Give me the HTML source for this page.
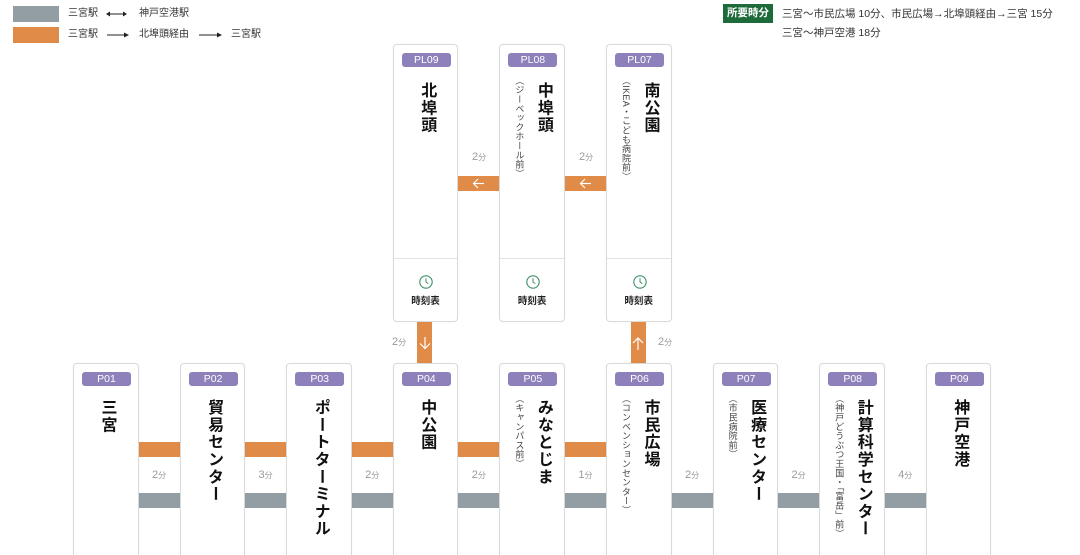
<!DOCTYPE html>
<html><head><meta charset="utf-8">
<style>
*{box-sizing:border-box;margin:0;padding:0}
html,body{width:1080px;height:555px;overflow:hidden;background:#fff}
body{position:relative;font-family:"Liberation Sans","Noto Sans CJK JP",sans-serif;color:#222}
.abs{position:absolute}
.card{position:absolute;background:#fff;border:1px solid #dadada;border-radius:4px;width:65.5px;box-shadow:0 0 2px rgba(0,0,0,0.04)}
.pcard{top:363px;height:192px;border-bottom:none;border-bottom-left-radius:0;border-bottom-right-radius:0}
.plcard{top:44px;height:278px}
.badge{position:absolute;left:8px;width:49px;height:14px;border-radius:3px;background:#8e80bb;color:#fff;font-size:10.5px;line-height:14px;text-align:center;font-family:"Liberation Sans",sans-serif}
.name{position:absolute;writing-mode:vertical-rl;font-size:16px;line-height:16px;width:16px;font-weight:bold;letter-spacing:1.3px;color:#111;white-space:nowrap}
.sub{position:absolute;writing-mode:vertical-rl;font-size:9px;line-height:9px;width:9px;color:#444;white-space:nowrap;letter-spacing:0.3px}
.or{position:absolute;background:#e08b47}
.gr{position:absolute;background:#939ea4}
.t{position:absolute;font-size:11px;color:#999;line-height:12px;white-space:nowrap;text-align:center;width:30px}
.t small{font-size:8px}
.lg{position:absolute;font-size:10px;color:#333;line-height:12px;white-space:nowrap}
.div{position:absolute;left:0;right:0;top:213px;border-top:1px solid #e3e3e3}
.tt{position:absolute;left:0;right:0;top:251px;text-align:center;font-size:9.5px;font-weight:bold;color:#222;line-height:12px}
.clk{position:absolute;left:25.5px;top:230px}
</style></head><body>

<!-- legend left -->
<div class="abs" style="left:13px;top:6px;width:46px;height:16px;background:#939ea4"></div>
<div class="abs" style="left:13px;top:27px;width:46px;height:16px;background:#e08b47"></div>
<div class="lg" style="left:68px;top:8px">三宮駅</div>
<svg class="abs" style="left:106px;top:9px" width="22" height="10"><line x1="2" y1="5" x2="19" y2="5" stroke="#222" stroke-width="1"/><polygon points="0,5 4,2.5 4,7.5" fill="#222"/><polygon points="21,5 17,2.5 17,7.5" fill="#222"/></svg>
<div class="lg" style="left:139px;top:8px">神戸空港駅</div>
<div class="lg" style="left:68px;top:29px">三宮駅</div>
<svg class="abs" style="left:106px;top:30px" width="24" height="10"><line x1="1" y1="5" x2="20" y2="5" stroke="#222" stroke-width="1"/><polygon points="23,5 18,2.5 18,7.5" fill="#222"/></svg>
<div class="lg" style="left:139px;top:29px">北埠頭経由</div>
<svg class="abs" style="left:198px;top:30px" width="26" height="10"><line x1="1" y1="5" x2="21" y2="5" stroke="#222" stroke-width="1"/><polygon points="24,5 19,2.5 19,7.5" fill="#222"/></svg>
<div class="lg" style="left:231px;top:29px">三宮駅</div>

<!-- legend right -->
<div class="abs" style="left:723px;top:4px;width:50px;height:19px;background:#1d6b3b;color:#fff;font-size:10.5px;font-weight:bold;line-height:19px;text-align:center">所要時分</div>
<div class="lg" style="left:782px;top:8px;font-size:10.5px">三宮〜市民広場 10分、市民広場→北埠頭経由→三宮 15分</div>
<div class="lg" style="left:782px;top:27px;font-size:10.5px">三宮〜神戸空港 18分</div>

<!-- PL cards -->
<div class="card plcard" style="left:392.8px">
  <div class="badge" style="top:8px">PL09</div>
  <div class="name" style="left:24.5px;top:37px">北埠頭</div>
  <div class="div"></div>
  <svg class="clk" width="14" height="14"><circle cx="7" cy="7" r="6.2" fill="none" stroke="#3f8f68" stroke-width="1.1"/><polyline points="7,3.3 7,7 9.3,8.6" fill="none" stroke="#3f8f68" stroke-width="1"/></svg>
  <div class="tt">時刻表</div>
</div>
<div class="card plcard" style="left:499.4px">
  <div class="badge" style="top:8px">PL08</div>
  <div class="sub" style="left:14px;top:31px">（ジーベックホール前）</div>
  <div class="name" style="left:34.5px;top:37px">中埠頭</div>
  <div class="div"></div>
  <svg class="clk" width="14" height="14"><circle cx="7" cy="7" r="6.2" fill="none" stroke="#3f8f68" stroke-width="1.1"/><polyline points="7,3.3 7,7 9.3,8.6" fill="none" stroke="#3f8f68" stroke-width="1"/></svg>
  <div class="tt">時刻表</div>
</div>
<div class="card plcard" style="left:606px">
  <div class="badge" style="top:8px">PL07</div>
  <div class="sub" style="left:14px;top:31px">（IKEA・こども病院前）</div>
  <div class="name" style="left:34.5px;top:37px">南公園</div>
  <div class="div"></div>
  <svg class="clk" width="14" height="14"><circle cx="7" cy="7" r="6.2" fill="none" stroke="#3f8f68" stroke-width="1.1"/><polyline points="7,3.3 7,7 9.3,8.6" fill="none" stroke="#3f8f68" stroke-width="1"/></svg>
  <div class="tt">時刻表</div>
</div>

<!-- PL horizontal arrows -->
<div class="or" style="left:458.3px;top:176px;width:41.1px;height:15px"></div>
<svg class="abs" style="left:472px;top:178px" width="14" height="11"><polyline points="6,1 1.5,5.5 6,10" fill="none" stroke="#fff" stroke-width="1.2"/><line x1="1.5" y1="5.5" x2="12" y2="5.5" stroke="#fff" stroke-width="1.2"/></svg>
<div class="t" style="left:464px;top:151px">2<small>分</small></div>
<div class="or" style="left:564.9px;top:176px;width:41.1px;height:15px"></div>
<svg class="abs" style="left:578.5px;top:178px" width="14" height="11"><polyline points="6,1 1.5,5.5 6,10" fill="none" stroke="#fff" stroke-width="1.2"/><line x1="1.5" y1="5.5" x2="12" y2="5.5" stroke="#fff" stroke-width="1.2"/></svg>
<div class="t" style="left:571px;top:151px">2<small>分</small></div>

<!-- vertical connectors -->
<div class="or" style="left:417px;top:322px;width:15px;height:41px"></div>
<svg class="abs" style="left:418.5px;top:336px" width="12" height="14"><polyline points="1,7.5 6,12.5 11,7.5" fill="none" stroke="#fff" stroke-width="1.2"/><line x1="6" y1="1" x2="6" y2="12.5" stroke="#fff" stroke-width="1.2"/></svg>
<div class="t" style="left:384px;top:336px">2<small>分</small></div>
<div class="or" style="left:630.5px;top:322px;width:15px;height:41px"></div>
<svg class="abs" style="left:632px;top:337px" width="12" height="14"><polyline points="1,6 6,1 11,6" fill="none" stroke="#fff" stroke-width="1.2"/><line x1="6" y1="1" x2="6" y2="13" stroke="#fff" stroke-width="1.2"/></svg>
<div class="t" style="left:650px;top:336px">2<small>分</small></div>

<!-- horizontal line bars -->
<div class="or" style="left:138.5px;top:442px;width:41.1px;height:15px"></div>
<div class="or" style="left:245.1px;top:442px;width:41.1px;height:15px"></div>
<div class="or" style="left:351.7px;top:442px;width:41.1px;height:15px"></div>
<div class="or" style="left:458.3px;top:442px;width:41.1px;height:15px"></div>
<div class="or" style="left:564.9px;top:442px;width:41.1px;height:15px"></div>

<div class="gr" style="left:138.5px;top:493px;width:41.1px;height:15px"></div>
<div class="gr" style="left:245.1px;top:493px;width:41.1px;height:15px"></div>
<div class="gr" style="left:351.7px;top:493px;width:41.1px;height:15px"></div>
<div class="gr" style="left:458.3px;top:493px;width:41.1px;height:15px"></div>
<div class="gr" style="left:564.9px;top:493px;width:41.1px;height:15px"></div>
<div class="gr" style="left:671.5px;top:493px;width:41.1px;height:15px"></div>
<div class="gr" style="left:778.1px;top:493px;width:41.1px;height:15px"></div>
<div class="gr" style="left:884.7px;top:493px;width:41.1px;height:15px"></div>

<div class="t" style="left:144px;top:469px">2<small>分</small></div>
<div class="t" style="left:250.6px;top:469px">3<small>分</small></div>
<div class="t" style="left:357.2px;top:469px">2<small>分</small></div>
<div class="t" style="left:463.8px;top:469px">2<small>分</small></div>
<div class="t" style="left:570.4px;top:469px">1<small>分</small></div>
<div class="t" style="left:677px;top:469px">2<small>分</small></div>
<div class="t" style="left:783.6px;top:469px">2<small>分</small></div>
<div class="t" style="left:890.2px;top:469px">4<small>分</small></div>

<!-- P cards -->
<div class="card pcard" style="left:73px">
  <div class="badge" style="top:8px">P01</div>
  <div class="name" style="left:24.5px;top:35px">三宮</div>
</div>
<div class="card pcard" style="left:179.6px">
  <div class="badge" style="top:8px">P02</div>
  <div class="name" style="left:24.5px;top:35px">貿易センター</div>
</div>
<div class="card pcard" style="left:286.2px">
  <div class="badge" style="top:8px">P03</div>
  <div class="name" style="left:24.5px;top:35px">ポートターミナル</div>
</div>
<div class="card pcard" style="left:392.8px">
  <div class="badge" style="top:8px">P04</div>
  <div class="name" style="left:24.5px;top:35px">中公園</div>
</div>
<div class="card pcard" style="left:499.4px">
  <div class="badge" style="top:8px">P05</div>
  <div class="sub" style="left:14px;top:30px">（キャンパス前）</div>
  <div class="name" style="left:34.5px;top:35px">みなとじま</div>
</div>
<div class="card pcard" style="left:606px">
  <div class="badge" style="top:8px">P06</div>
  <div class="sub" style="left:14px;top:30px">（コンベンションセンター）</div>
  <div class="name" style="left:34.5px;top:35px">市民広場</div>
</div>
<div class="card pcard" style="left:712.6px">
  <div class="badge" style="top:8px">P07</div>
  <div class="sub" style="left:14px;top:30px">（市民病院前）</div>
  <div class="name" style="left:34.5px;top:35px">医療センター</div>
</div>
<div class="card pcard" style="left:819.2px">
  <div class="badge" style="top:8px">P08</div>
  <div class="sub" style="left:14px;top:30px">（神戸どうぶつ王国・「富岳」前）</div>
  <div class="name" style="left:34.5px;top:35px">計算科学センター</div>
</div>
<div class="card pcard" style="left:925.8px">
  <div class="badge" style="top:8px">P09</div>
  <div class="name" style="left:24.5px;top:35px">神戸空港</div>
</div>

</body></html>
